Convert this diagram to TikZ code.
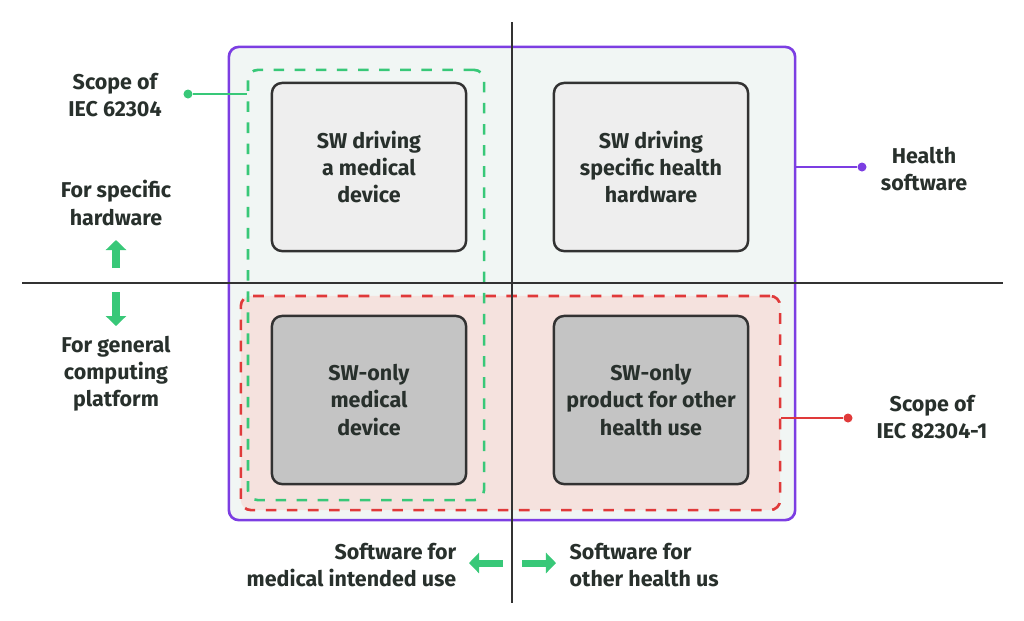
\documentclass[tikz,border=0pt]{standalone}
\usepackage{fontspec}
\setmainfont{Fira Sans}
\usetikzlibrary{positioning,arrows.meta,calc}
\definecolor{colortext}   {RGB}{ 40, 48, 44}
\definecolor{colorgreen}  {RGB}{ 56,200,120}
\definecolor{colorpurple} {RGB}{124, 62,226}
\definecolor{colorred}    {RGB}{224, 58, 58}
\definecolor{colorback}   {RGB}{241,246,244}
\definecolor{colorpink}   {RGB}{245,226,222}
\definecolor{colorlight}  {RGB}{238,238,238}
\definecolor{colordark}   {RGB}{196,196,196}
\definecolor{colorframe}  {RGB}{ 50, 50, 50}

\begin{document}
\begin{tikzpicture}[
    x=0.01cm, y=-0.01cm,
    font={\fontsize{6.1}{7.7}\selectfont\bfseries},
    txt/.style={text=colortext,inner sep=0pt,align=center},
    area/.style={rectangle,rounded corners=0.1cm,inner sep=0pt},
    box/.style={area,txt,draw=colorframe,line width=0.7pt,minimum width=1.94cm,minimum height=1.68cm},
    dot/.style={circle,inner sep=0pt,minimum size=0.09cm,fill=#1},
    pointer/.style={-{Triangle[length=0.1cm,width=0.2cm]},line width=0.07cm,colorgreen},
]
    \useasboundingbox (0,0) rectangle (1024,620);

    % Areas
    \node[area,draw=colorpurple,line width=0.75pt,fill=colorback,minimum width=5.66cm,minimum height=4.73cm] (health) at (512,283.5) {};
    \node[area,draw=colorred,dashed,line width=0.75pt,fill=colorpink,minimum width=5.39cm,minimum height=2.14cm] (iec82304) at (510.5,403) {};
    \node[area,draw=colorgreen,dashed,line width=0.75pt,minimum width=2.36cm,minimum height=4.30cm] (iec62304) at (366,285) {};

    % Axes
    \draw[line width=0.5pt,colorframe] (512,22) -- (512,603);
    \draw[line width=0.5pt,colorframe] (22,283) -- (1003,283);

    % Quadrants
    \node[box,fill=colorlight] (medical)  at (369,167) {SW driving\\a medical\\device};
    \node[box,fill=colorlight] (hardware) at (651,167) {SW driving\\specific health\\hardware};
    \node[box,fill=colordark]  (swonly)   at (369,400) {SW-only\\medical\\device};
    \node[box,fill=colordark]  (product)  at (651,400) {SW-only\\product for other\\health use};

    % Scope labels
    \node[txt] (scopeA) at (115,95) {Scope of\\IEC 62304};
    \node[dot=colorgreen] (dotA) at (188,94) {};
    \draw[colorgreen,line width=0.6pt] (dotA) -- (iec62304.west |- dotA);

    \node[txt] (scopeH) at (924,169) {Health\\software};
    \node[dot=colorpurple] (dotH) at (862,167) {};
    \draw[colorpurple,line width=0.6pt] (dotH) -- (health.east |- dotH);

    \node[txt] (scopeB) at (932,417) {Scope of\\IEC 82304-1};
    \node[dot=colorred] (dotB) at (848,418) {};
    \draw[colorred,line width=0.6pt] (dotB) -- (iec82304.east |- dotB);

    % Axis labels
    \node[txt] (specific) at (116,203) {For specific\\hardware};
    \node[txt] (general)  at (116,374) {For general\\computing\\platform};
    \node[txt,align=right,anchor=east] (medicaluse) at (457,565) {Software for\\medical intended use};
    \node[txt,align=left,anchor=west]  (otheruse)   at (569,565) {Software for\\other health us};

    \coordinate (up)    at (116,240);
    \coordinate (down)  at (116,326);
    \coordinate (left)  at (469,563);
    \coordinate (right) at (556,563);
    \draw[pointer] (116,268) -- (up);
    \draw[pointer] (116,292) -- (down);
    \draw[pointer] (503,563) -- (left);
    \draw[pointer] (522,563) -- (right);
\end{tikzpicture}
\end{document}
